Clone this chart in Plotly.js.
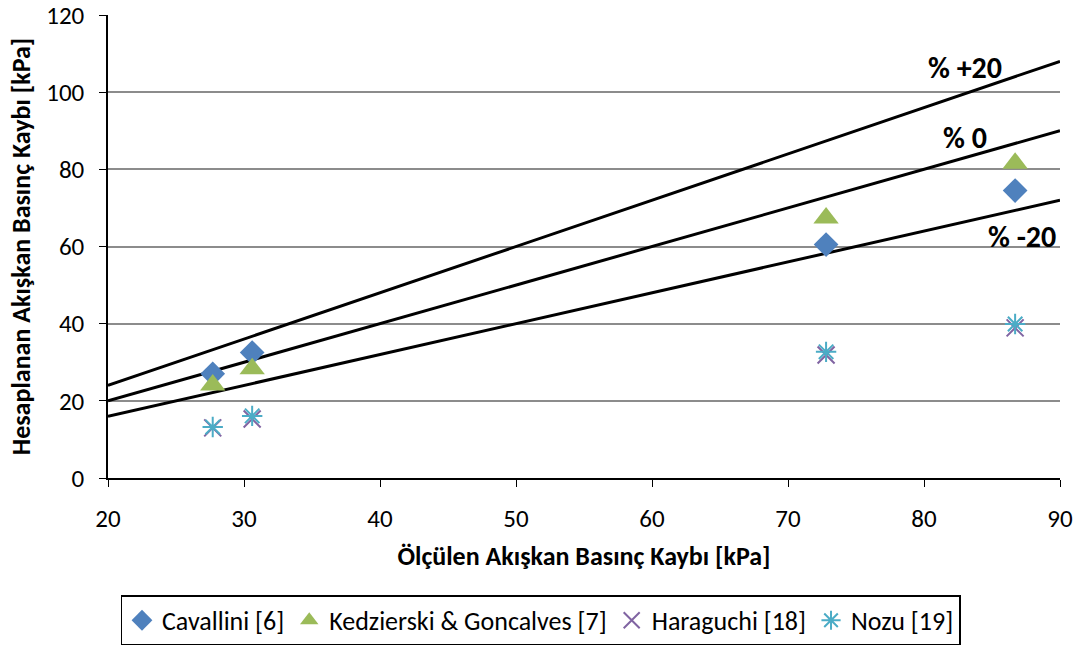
<!DOCTYPE html>
<html><head><meta charset="utf-8">
<script src="https://cdn.plot.ly/plotly-3.0.1.min.js"></script>
<style>body{margin:0;background:#fff}#c{width:1081px;height:653px}</style>
</head><body><div id="c"></div>
<script>
const measured = [27.7, 30.6, 72.8, 86.7];
const cavallini = [27.0, 32.5, 60.5, 74.5];
const kedzierski = [24.1, 28.3, 67.4, 81.6];
const haraguchi = [13.0, 15.3, 31.9, 38.9];
const nozu = [13.2, 16.1, 32.7, 39.9];
const lineX = [20, 90];
const linePlus20 = [24, 108];
const lineZero = [20, 90];
const lineMinus20 = [16, 72];
const seriesNames = ["Cavallini [6]", "Kedzierski & Goncalves [7]", "Haraguchi [18]", "Nozu [19]"];
const lineLabels = ["% +20", "% 0", "% -20"];

const font = "Carlito, Calibri, Lato, sans-serif";
const refLine = (y) => ({x: lineX, y: y, mode: 'lines', line: {color: '#000', width: 3}, showlegend: false, hoverinfo: 'skip'});
const data = [
  refLine(linePlus20), refLine(lineZero), refLine(lineMinus20),
  {x: measured, y: cavallini, name: seriesNames[0], mode: 'markers', marker: {symbol: 'diamond', size: 19, color: '#4F81BD'}},
  {x: measured, y: kedzierski, name: seriesNames[1], mode: 'markers', marker: {symbol: 'triangle-up', size: 22, color: '#9BBB59'}},
  {x: measured, y: haraguchi, name: seriesNames[2], mode: 'markers', marker: {symbol: 'x-thin-open', size: 17, color: '#8064A2', line: {width: 2, color: '#8064A2'}}},
  {x: measured, y: nozu, name: seriesNames[3], mode: 'markers', marker: {symbol: 'asterisk-open', size: 17, color: '#4BACC6', line: {width: 2, color: '#4BACC6'}}}
];
const layout = {
  width: 1081, height: 653,
  margin: {l: 108, r: 21, t: 15, b: 175},
  paper_bgcolor: '#fff', plot_bgcolor: '#fff',
  font: {family: font, size: 25, color: '#000'},
  xaxis: {range: [20, 90], dtick: 10, tick0: 20, showgrid: false, zeroline: false, automargin: false,
    showline: true, linecolor: '#000', linewidth: 1.5, ticks: 'outside', ticklen: 7, tickcolor: '#000',
    tickfont: {size: 25}, ticklabelstandoff: 10, ticklabeloverflow: 'allow',
    title: {text: 'Ölçülen Akışkan Basınç Kaybı [kPa]', font: {size: 26, family: font, weight: 'bold'}, standoff: 14}},
  yaxis: {range: [0, 120], dtick: 20, tick0: 0, showgrid: true, gridcolor: '#8c8c8c', gridwidth: 1.5, zeroline: false, automargin: false,
    showline: true, linecolor: '#000', linewidth: 1.5, ticks: 'outside', ticklen: 7, tickcolor: '#000',
    tickfont: {size: 25}, ticklabelstandoff: 10, ticklabeloverflow: 'allow',
    title: {text: 'Hesaplanan Akışkan Basınç Kaybı [kPa]', font: {size: 26, family: font, weight: 'bold'}, standoff: 8}},
  showlegend: true,
  legend: {orientation: 'h', xref: 'container', yref: 'container', x: 0.5, xanchor: 'center', y: 0.05, yanchor: 'middle',
    bordercolor: '#000', borderwidth: 1.5, font: {size: 26}, itemwidth: 30, tracegroupgap: 0},
  annotations: [
    {x: 83.0, y: 106.3, text: lineLabels[0], showarrow: false, font: {size: 30, weight: 'bold'}},
    {x: 83.0, y: 88.3, text: lineLabels[1], showarrow: false, font: {size: 30, weight: 'bold'}},
    {x: 87.2, y: 62.5, text: lineLabels[2], showarrow: false, font: {size: 30, weight: 'bold'}}
  ]
};
Plotly.newPlot('c', data, layout, {displayModeBar: false});
</script></body></html>
